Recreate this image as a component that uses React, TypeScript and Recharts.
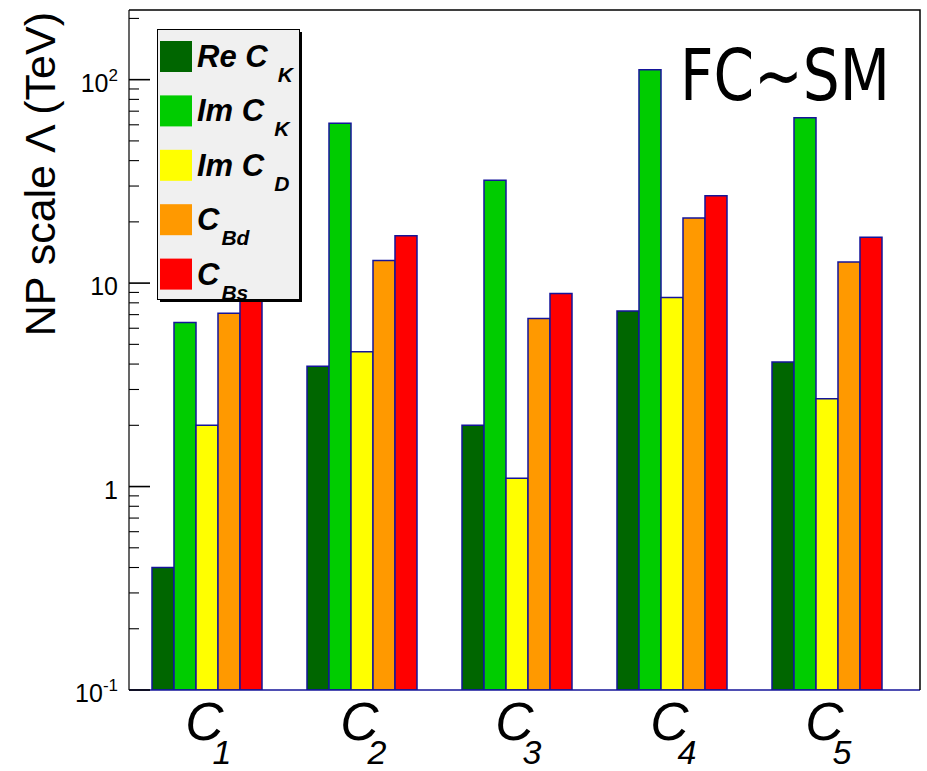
import { BarChart, Bar, XAxis, YAxis, Legend } from 'recharts';

const CATEGORIES = ['C1', 'C2', 'C3', 'C4', 'C5'];

// lower bounds on the NP scale (TeV) for each operator
const RE_CK = [0.4, 3.9, 2.0, 7.3, 4.1];
const IM_CK = [6.4, 61, 32, 112, 65];
const IM_CD = [2.0, 4.6, 1.1, 8.5, 2.7];
const C_BD = [7.1, 12.9, 6.7, 20.9, 12.7];
const C_BS = [9.0, 17.1, 8.9, 26.9, 16.8];

const SERIES = [
  { key: 'reCK', values: RE_CK, color: '#006600', label: 'Re C', sub: 'K', subGap: 10 },
  { key: 'imCK', values: IM_CK, color: '#00cc00', label: 'Im C', sub: 'K', subGap: 10 },
  { key: 'imCD', values: IM_CD, color: '#ffff00', label: 'Im C', sub: 'D', subGap: 10 },
  { key: 'cBd', values: C_BD, color: '#ff9900', label: 'C', sub: 'Bd', subGap: 2 },
  { key: 'cBs', values: C_BS, color: '#ff0000', label: 'C', sub: 'Bs', subGap: 2 },
];

const Y_MIN = 0.1;
const Y_MAX = 220;
const MAJOR_TICKS = [0.1, 1, 10, 100];
const MAJOR_LABELS = [
  ['10', '-1'],
  ['1', ''],
  ['10', ''],
  ['10', '2'],
];
const MINOR_STEPS = [2, 3, 4, 5, 6, 7, 8, 9];
const Y_TICKS = [
  ...MAJOR_TICKS,
  ...MAJOR_TICKS.flatMap((d) => MINOR_STEPS.map((s) => d * s)),
].filter((v) => v <= Y_MAX);

const data = CATEGORIES.map((name, i) => {
  const row: Record<string, string | number> = { name };
  SERIES.forEach((s) => {
    row[s.key] = s.values[i];
  });
  return row;
});

const FONT = '"Liberation Sans", Arial, Helvetica, sans-serif';
const BAR_EDGE = '#14149a';

// plot frame (chart margins + axis sizes)
const PLOT = { left: 129, top: 10, right: 920, bottom: 690 };

function YTick(props: any) {
  const { x, y, payload } = props;
  const v = payload.value;
  const idx = MAJOR_TICKS.findIndex((m) => Math.abs(m - v) / m < 1e-6);
  const major = idx >= 0;
  return (
    <g>
      <line x1={x} x2={x + (major ? 21 : 10)} y1={y} y2={y} stroke="#000" strokeWidth={major ? 1.6 : 1.1} />
      {major && (
        <text x={x - 11} y={y + 12} textAnchor="end" fontFamily={FONT} fontSize={25} fill="#000">
          {MAJOR_LABELS[idx][0]}
          {MAJOR_LABELS[idx][1] && (
            <tspan fontSize={17} dy={-11}>
              {MAJOR_LABELS[idx][1]}
            </tspan>
          )}
        </text>
      )}
    </g>
  );
}

function XTick(props: any) {
  const { x, payload } = props;
  const name: string = payload.value;
  const y = PLOT.bottom;
  return (
    <g fontFamily={FONT} fontStyle="italic" fill="#000">
      <text x={x - 2} y={y + 50} textAnchor="middle" fontSize={53}>
        {name.slice(0, 1)}
      </text>
      <text x={x + 6} y={y + 74} textAnchor="start" fontSize={34}>
        {name.slice(1)}
      </text>
    </g>
  );
}

function YTitle() {
  return (
    <text
      x={55}
      y={12}
      transform="rotate(-90 55 12)"
      textAnchor="end"
      fontFamily={FONT}
      fontSize={43}
      fill="#000"
    >
      NP scale Λ (TeV)
    </text>
  );
}

function LegendBox() {
  return (
    <svg width={148} height={276} style={{ display: 'block' }}>
      <rect x={3} y={3} width={142} height={270} fill="#000" />
      <rect x={0.5} y={0.5} width={142} height={270} fill="#f0f0f0" stroke="#000" strokeWidth={1} />
      {SERIES.map((s, i) => {
        const top = 12 + i * 54.4;
        return (
          <g key={s.key}>
            <rect x={3} y={top} width={32} height={31} fill={s.color} />
            <text
              x={40}
              y={top + 26}
              fontFamily={FONT}
              fontStyle="italic"
              fontWeight="bold"
              fontSize={31}
              fill="#000"
            >
              {s.label}
              <tspan dx={s.subGap} dy={15} fontSize={21}>
                {s.sub}
              </tspan>
            </text>
          </g>
        );
      })}
    </svg>
  );
}

export default function App() {
  return (
    <div style={{ position: 'relative', width: 927, height: 771, background: '#fff', fontFamily: FONT }}>
      <style>{'body{margin:0}'}</style>
      <BarChart
        width={927}
        height={771}
        data={data}
        margin={{ top: PLOT.top, right: 927 - PLOT.right, bottom: 0, left: 0 }}
        barSize={22}
        barGap={0}
      >
        <XAxis
          dataKey="name"
          height={771 - PLOT.bottom}
          padding={{ left: 0, right: 16 }}
          axisLine={{ stroke: BAR_EDGE, strokeWidth: 1.5 }}
          tickLine={false}
          tickSize={0}
          tickMargin={0}
          interval={0}
          tick={<XTick />}
        />
        <YAxis
          scale="log"
          domain={[Y_MIN, Y_MAX]}
          allowDataOverflow
          ticks={Y_TICKS}
          interval={0}
          width={PLOT.left}
          axisLine={{ stroke: '#000', strokeWidth: 1.2 }}
          tickLine={false}
          tickSize={0}
          tickMargin={0}
          tick={<YTick />}
          label={<YTitle />}
        />
        {SERIES.map((s) => (
          <Bar
            key={s.key}
            dataKey={s.key}
            fill={s.color}
            stroke={BAR_EDGE}
            strokeWidth={1.5}
            isAnimationActive={false}
          />
        ))}
        <Legend
          layout="horizontal"
          verticalAlign="middle"
          align="center"
          wrapperStyle={{ position: 'absolute', left: 157, top: 29, width: 148, height: 276, margin: 0 }}
          content={() => <LegendBox />}
        />
      </BarChart>
      <svg
        width={927}
        height={771}
        style={{ position: 'absolute', left: 0, top: 0, pointerEvents: 'none' }}
      >
        <polyline
          points={`${PLOT.left},${PLOT.top} ${PLOT.right},${PLOT.top} ${PLOT.right},${PLOT.bottom}`}
          fill="none"
          stroke="#000"
          strokeWidth={1.5}
        />
        <text
          x={680}
          y={100}
          fontFamily='"DejaVu Sans", sans-serif'
          fontSize={72}
          textLength={210}
          lengthAdjust="spacingAndGlyphs"
          fill="#000"
        >
          FC~SM
        </text>
      </svg>
    </div>
  );
}
